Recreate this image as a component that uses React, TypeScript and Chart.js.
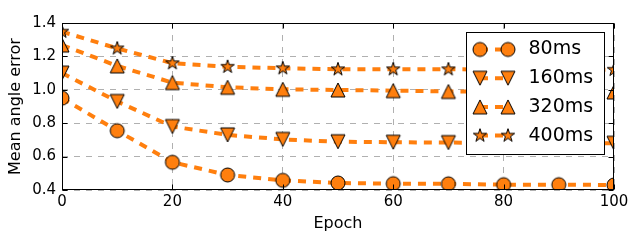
import { useEffect, useRef } from "react";
import { Chart, registerables } from "chart.js";

Chart.register(...registerables);

// Mean angle error per training epoch, one series per prediction horizon
const epochs = [0, 10, 20, 30, 40, 50, 60, 70, 80, 90, 100];
const err80ms = [0.95, 0.755, 0.566, 0.49, 0.458, 0.442, 0.438, 0.437, 0.432, 0.432, 0.43];
const err160ms = [1.1, 0.93, 0.78, 0.73, 0.703, 0.689, 0.686, 0.684, 0.682, 0.681, 0.68];
const err320ms = [1.268, 1.143, 1.043, 1.015, 1.003, 0.999, 0.995, 0.99, 0.988, 0.987, 0.987];
const err400ms = [1.348, 1.248, 1.159, 1.138, 1.129, 1.123, 1.123, 1.123, 1.121, 1.12, 1.12];
const seriesLabels = ["80ms", "160ms", "320ms", "400ms"];

const xMin = 0;
const xMax = 100;
const xStep = 20;
const yMin = 0.4;
const yMax = 1.4;
const yStep = 0.2;

const ORANGE = "#ff7f0e";
const FONT = "'DejaVu Sans', sans-serif";
const MARKER_SIZE = 14;

type MarkerKind = "circle" | "triangleDown" | "triangleUp" | "star";
const markerKinds: MarkerKind[] = ["circle", "triangleDown", "triangleUp", "star"];

function makeMarker(kind: MarkerKind): HTMLCanvasElement {
  const dim = 20;
  const c = document.createElement("canvas");
  c.width = dim;
  c.height = dim;
  const ctx = c.getContext("2d")!;
  const m = dim / 2;
  const r = MARKER_SIZE / 2;
  ctx.beginPath();
  if (kind === "circle") {
    ctx.arc(m, m, r, 0, Math.PI * 2);
  } else if (kind === "triangleUp") {
    ctx.moveTo(m, m - r);
    ctx.lineTo(m - r, m + r);
    ctx.lineTo(m + r, m + r);
    ctx.closePath();
  } else if (kind === "triangleDown") {
    ctx.moveTo(m, m + r);
    ctx.lineTo(m - r, m - r);
    ctx.lineTo(m + r, m - r);
    ctx.closePath();
  } else {
    const inner = r * 0.381966;
    for (let k = 0; k < 10; k++) {
      const rad = k % 2 === 0 ? r : inner;
      const ang = -Math.PI / 2 + (k * Math.PI) / 5;
      const px = m + rad * Math.cos(ang);
      const py = m + rad * Math.sin(ang);
      if (k === 0) ctx.moveTo(px, py);
      else ctx.lineTo(px, py);
    }
    ctx.closePath();
  }
  ctx.fillStyle = ORANGE;
  ctx.fill();
  ctx.lineWidth = 1;
  ctx.lineJoin = "miter";
  ctx.strokeStyle = "#000000";
  ctx.stroke();
  return c;
}

export default function App() {
  const canvasRef = useRef<HTMLCanvasElement>(null);

  useEffect(() => {
    document.body.style.margin = "0";
    const canvas = canvasRef.current;
    if (!canvas) return;

    const markers = markerKinds.map(makeMarker);
    const seriesValues = [err80ms, err160ms, err320ms, err400ms];

    const datasets = seriesValues.map((vals, i) => ({
      label: seriesLabels[i],
      data: epochs.map((x, j) => ({ x, y: vals[j] })),
      borderColor: ORANGE,
      backgroundColor: ORANGE,
      borderWidth: 4,
      borderDash: [8, 7],
      borderCapStyle: "butt" as const,
      pointStyle: markers[i],
      pointRadius: 7,
      pointHoverRadius: 7,
      fill: false,
      tension: 0,
      clip: 0,
      order: seriesValues.length - i,
    }));

    // Axes frame with inward tick marks on all four sides
    const framePlugin = {
      id: "frame",
      afterDatasetsDraw(chart: Chart) {
        const { ctx, chartArea } = chart;
        const xs = chart.scales.x;
        const ys = chart.scales.y;
        const L = Math.round(chartArea.left) + 0.5;
        const R = Math.round(chartArea.right) - 0.5;
        const T = Math.round(chartArea.top) + 0.5;
        const B = Math.round(chartArea.bottom) - 0.5;
        const tl = 5;
        ctx.save();
        ctx.strokeStyle = "#000000";
        ctx.lineWidth = 1;
        ctx.setLineDash([]);
        ctx.beginPath();
        for (let v = xMin; v <= xMax + 1e-9; v += xStep) {
          const px = Math.round(xs.getPixelForValue(v)) + 0.5;
          ctx.moveTo(px, B);
          ctx.lineTo(px, B - tl);
          ctx.moveTo(px, T);
          ctx.lineTo(px, T + tl);
        }
        for (let v = yMin; v <= yMax + 1e-9; v += yStep) {
          const py = Math.round(ys.getPixelForValue(v)) + 0.5;
          ctx.moveTo(L, py);
          ctx.lineTo(L + tl, py);
          ctx.moveTo(R, py);
          ctx.lineTo(R - tl, py);
        }
        ctx.stroke();
        ctx.strokeRect(L, T, R - L, B - T);
        ctx.restore();
      },
    };

    // Legend box in the upper right of the plot area
    const legendPlugin = {
      id: "insetLegend",
      afterDraw(chart: Chart) {
        const { ctx, chartArea } = chart;
        const boxRight = chartArea.right - 10;
        const boxW = 138;
        const boxTop = chartArea.top + 9;
        const boxH = 122;
        const bx = Math.round(boxRight - boxW) + 0.5;
        const by = Math.round(boxTop) + 0.5;
        ctx.save();
        ctx.fillStyle = "#ffffff";
        ctx.fillRect(bx, by, boxW, boxH);
        ctx.strokeStyle = "#000000";
        ctx.lineWidth = 1;
        ctx.setLineDash([]);
        ctx.strokeRect(bx, by, boxW, boxH);
        const rowGap = 28.7;
        const firstRow = by + 17;
        const m1 = bx + 13.5;
        const m2 = m1 + 28;
        const textX = bx + 62;
        ctx.font = `19px ${FONT}`;
        ctx.textBaseline = "middle";
        ctx.textAlign = "left";
        seriesLabels.forEach((label, i) => {
          const cy = firstRow + i * rowGap;
          ctx.strokeStyle = ORANGE;
          ctx.lineWidth = 4;
          ctx.lineCap = "butt";
          ctx.setLineDash([8, 7]);
          ctx.beginPath();
          ctx.moveTo(m1, cy);
          ctx.lineTo(m2, cy);
          ctx.stroke();
          ctx.setLineDash([]);
          const mk = markers[i];
          ctx.drawImage(mk, m1 - mk.width / 2, cy - mk.height / 2);
          ctx.drawImage(mk, m2 - mk.width / 2, cy - mk.height / 2);
          ctx.fillStyle = "#000000";
          ctx.fillText(label, textX, cy);
        });
        ctx.restore();
      },
    };

    const chart = new Chart(canvas, {
      type: "line",
      data: { datasets },
      options: {
        animation: false,
        responsive: false,
        devicePixelRatio: 1,
        events: [],
        layout: { padding: { top: 23, right: 27, left: 0, bottom: 0 } },
        plugins: {
          legend: { display: false },
          tooltip: { enabled: false },
        },
        scales: {
          x: {
            type: "linear",
            min: xMin,
            max: xMax,
            offset: false,
            afterFit(scale: any) {
              scale.height = 53;
            },
            ticks: {
              stepSize: xStep,
              padding: 3,
              color: "#000000",
              maxRotation: 0,
              font: { family: FONT, size: 15 },
            },
            grid: {
              color: "#b0b0b0",
              lineWidth: 1,
              drawTicks: false,
            },
            border: { display: false, dash: [6, 6] },
            title: {
              display: true,
              text: "Epoch",
              color: "#000000",
              font: { family: FONT, size: 16 },
              padding: { top: 0, bottom: 9.6 },
            },
          },
          y: {
            type: "linear",
            min: yMin,
            max: yMax,
            afterFit(scale: any) {
              scale.width = 62;
            },
            ticks: {
              stepSize: yStep,
              padding: 6,
              color: "#000000",
              font: { family: FONT, size: 15 },
              callback: (v: any) => Number(v).toFixed(1),
            },
            grid: {
              color: "#b0b0b0",
              lineWidth: 1,
              drawTicks: false,
            },
            border: { display: false, dash: [6, 6] },
            title: {
              display: true,
              text: "Mean angle error",
              color: "#000000",
              font: { family: FONT, size: 16 },
              padding: { top: 6.5, bottom: 0 },
            },
          },
        },
      },
      plugins: [framePlugin, legendPlugin],
    });

    return () => chart.destroy();
  }, []);

  return (
    <div style={{ width: 641, height: 243 }}>
      <canvas ref={canvasRef} width={641} height={243} />
    </div>
  );
}
